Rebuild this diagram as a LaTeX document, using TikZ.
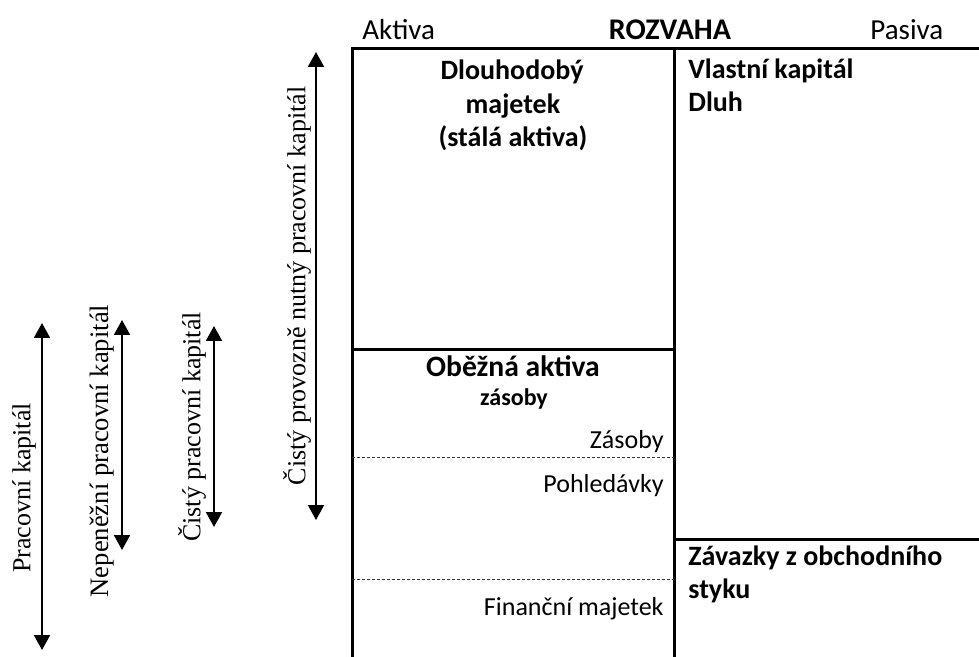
\documentclass[tikz,border=0pt]{standalone}
\usepackage{fontspec}
\setmainfont{Carlito}
\newfontfamily\serifrm{Liberation Serif}
\usetikzlibrary{arrows.meta}

\begin{document}
\begin{tikzpicture}[x=0.5pt,y=-0.5pt,
every node/.style={inner sep=0pt},
box/.style={line width=1.5pt},
split/.style={line width=0.5pt, black!80, dash pattern=on 1.5pt off 1pt},
kapital/.style={line width=1pt, {Triangle[width=8pt,length=7.5pt]}-{Triangle[width=8pt,length=7.5pt]}},
head/.style={font=\fontsize{14.5}{17}\selectfont, anchor=base west},
title/.style={font=\fontsize{14}{17}\selectfont\bfseries, anchor=base},
sub/.style={font=\fontsize{12}{14}\selectfont\bfseries, anchor=base},
item/.style={font=\fontsize{13}{15}\selectfont, anchor=base east},
side/.style={font=\fontsize{13}{15}\selectfont\serifrm, rotate=90}]

\useasboundingbox (0,0) rectangle (979,657);

% rozvaha
\draw[box] (352,657) -- (352,49) -- (979,49);
\draw[box] (674,49) -- (674,657);
\draw[box] (352,350) -- (674,350);
\draw[box] (674,539) -- (979,539);
\draw[split] (352,457) -- (674,457);
\draw[split] (352,579) -- (674,579);

\node[head] (aktiva) at (362,40) {Aktiva};
\node[title, font=\fontsize{15}{17}\selectfont\bfseries] (rozvaha) at (670,40) {ROZVAHA};
\node[head] (pasiva) at (870,40) {Pasiva};

\node[title] (dlouh) at (512,80) {Dlouhodobý};
\node[title] (majetek) at (513,114) {majetek};
\node[title] (stala) at (513,147) {(stálá aktiva)};

\node[title, anchor=base west] (vlastni) at (688,79) {Vlastní kapitál};
\node[title, anchor=base west] (dluh) at (688,112) {Dluh};

\node[title, font=\fontsize{14.8}{17}\selectfont\bfseries] (obezna) at (513,377) {Oběžná aktiva};
\node[sub] (zasoby) at (514,405) {zásoby};
\node[item] (zas) at (664,448) {Zásoby};
\node[item] (pohl) at (664,492) {Pohledávky};
\node[item] (fin) at (664,615) {Finanční majetek};

\node[title, anchor=base west] (zavazky) at (688,565) {Závazky z obchodního};
\node[title, anchor=base west] (styku) at (688,598) {styku};

% kapitál
\coordinate (pk-top) at (42,323);
\coordinate (pk-bot) at (42,650);
\coordinate (npk-top) at (122,320);
\coordinate (npk-bot) at (122,550);
\coordinate (cpk-top) at (214,326);
\coordinate (cpk-bot) at (214,527);
\coordinate (cpn-top) at (316,52);
\coordinate (cpn-bot) at (316,520);

\foreach \a in {pk, npk, cpk, cpn} {
\draw[kapital] (\a-top) -- (\a-bot);
};

\node[side] (pk) at (24,488) {Pracovní kapitál};
\node[side, font=\fontsize{13.3}{15}\selectfont\serifrm] (npk) at (102,451) {Nepeněžní pracovní kapitál};
\node[side] (cpk) at (192,427) {Čistý pracovní kapitál};
\node[side] (cpn) at (297,286) {Čistý provozně nutný pracovní kapitál};

\end{tikzpicture}
\end{document}
